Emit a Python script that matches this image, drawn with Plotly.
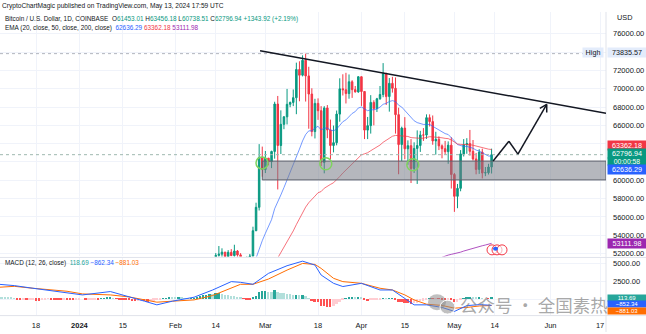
import plotly.graph_objects as go
import pandas as pd

W, H = 646, 334


def fx(px):
    return px / W


def fy(px):
    return 1 - px / H


# ---------------- price data (BTC/USD daily, Coinbase) ----------------
candle_dates = [
    "2024-02-13", "2024-02-14", "2024-02-15", "2024-02-16", "2024-02-17", "2024-02-18", "2024-02-19",
    "2024-02-20", "2024-02-21", "2024-02-22", "2024-02-23", "2024-02-24", "2024-02-25", "2024-02-26",
    "2024-02-27", "2024-02-28", "2024-02-29", "2024-03-01", "2024-03-02", "2024-03-03", "2024-03-04",
    "2024-03-05", "2024-03-06", "2024-03-07", "2024-03-08", "2024-03-09", "2024-03-10", "2024-03-11",
    "2024-03-12", "2024-03-13", "2024-03-14", "2024-03-15", "2024-03-16", "2024-03-17", "2024-03-18",
    "2024-03-19", "2024-03-20", "2024-03-21", "2024-03-22", "2024-03-23", "2024-03-24", "2024-03-25",
    "2024-03-26", "2024-03-27", "2024-03-28", "2024-03-29", "2024-03-30", "2024-03-31", "2024-04-01",
    "2024-04-02", "2024-04-03", "2024-04-04", "2024-04-05", "2024-04-06", "2024-04-07", "2024-04-08",
    "2024-04-09", "2024-04-10", "2024-04-11", "2024-04-12", "2024-04-13", "2024-04-14", "2024-04-15",
    "2024-04-16", "2024-04-17", "2024-04-18", "2024-04-19", "2024-04-20", "2024-04-21", "2024-04-22",
    "2024-04-23", "2024-04-24", "2024-04-25", "2024-04-26", "2024-04-27", "2024-04-28", "2024-04-29",
    "2024-04-30", "2024-05-01", "2024-05-02", "2024-05-03", "2024-05-04", "2024-05-05", "2024-05-06",
    "2024-05-07", "2024-05-08", "2024-05-09", "2024-05-10", "2024-05-11", "2024-05-12", "2024-05-13",
]
open_ = [
    49950, 49700, 51800, 51930, 52150, 51660, 52130,
    51780, 52270, 51850, 51300, 50740, 51570, 51730,
    54490, 57050, 62500, 61170, 62420, 62030, 63150,
    68330, 63800, 66110, 66930, 68300, 68500, 69020,
    72100, 71480, 73110, 71400, 69420, 65320, 68400,
    67600, 61950, 67900, 65500, 63800, 64110, 67230,
    69990, 69890, 69470, 70760, 69900, 69650, 71310,
    69700, 65480, 65970, 68510, 67830, 68900, 69370,
    71630, 69140, 70590, 70050, 67170, 63900, 65700,
    63440, 63780, 61290, 63480, 63800, 64950, 64940,
    66840, 66410, 64300, 64480, 63760, 63450, 63120,
    63840, 60630, 58250, 59120, 62880, 63890, 64010,
    63160, 62330, 61190, 63080, 60800, 60830, 61453.01,
]
high = [
    50370, 52050, 52820, 52570, 52180, 52370, 52480,
    52960, 52380, 52040, 51540, 51690, 51950, 54930,
    57550, 63950, 63680, 63200, 62430, 63230, 68580,
    69210, 67640, 67000, 69980, 68600, 69920, 72850,
    73000, 73650, 73835.57, 72400, 70050, 68900, 68950,
    68100, 68100, 68220, 66630, 65980, 67620, 71140,
    71580, 71740, 71560, 70930, 70300, 71370, 71350,
    69700, 66920, 69300, 68740, 69000, 70300, 72800,
    71750, 71170, 71300, 71230, 67930, 65860, 66900,
    64360, 64500, 64150, 65450, 65400, 65700, 67200,
    67200, 67080, 65300, 64800, 63920, 64300, 64250,
    64700, 60800, 59600, 63300, 64500, 64600, 65500,
    64400, 62990, 63400, 63450, 61450, 61800, 63456.18,
]
low = [
    48300, 49250, 51300, 51580, 50620, 51180, 51700,
    50650, 50830, 50920, 50550, 50590, 51290, 50900,
    54450, 56700, 60390, 60790, 61640, 61330, 62360,
    59000, 62870, 65580, 66100, 67980, 68100, 67220,
    68630, 71350, 68600, 65630, 64800, 64570, 66600,
    61560, 60760, 64600, 62300, 63050, 63820, 66400,
    69260, 68390, 68910, 69000, 69590, 69560, 68120,
    64500, 64500, 65100, 66000, 67460, 68800, 69070,
    68230, 67500, 69580, 65100, 60660, 62100, 62300,
    61700, 59700, 60800, 59600, 63100, 64300, 64520,
    65880, 63880, 62800, 63300, 62400, 62800, 61800,
    59100, 56550, 56950, 58800, 62600, 62900, 62700,
    62150, 60650, 60700, 60200, 60450, 60630, 60738.51,
]
close = [
    49700, 51800, 51930, 52150, 51660, 52130, 51780,
    52270, 51850, 51300, 50740, 51570, 51730, 54490,
    57050, 62500, 61170, 62420, 62030, 63150, 68330,
    63800, 66110, 66930, 68300, 68500, 69020, 72100,
    71480, 73110, 71400, 69420, 65320, 68400, 67600,
    61950, 67900, 65500, 63800, 64110, 67230, 69990,
    69890, 69470, 70760, 69900, 69650, 71310, 69700,
    65480, 65970, 68510, 67830, 68900, 69370, 71630,
    69140, 70590, 70050, 67170, 63900, 65700, 63440,
    63780, 61290, 63480, 63800, 64950, 64940, 66840,
    66410, 64300, 64480, 63760, 63450, 63120, 63840,
    60630, 58250, 59120, 62880, 63890, 64010, 63160,
    62330, 61190, 63080, 60800, 60830, 61450, 62796.94,
]

# ---------------- moving averages ----------------
ema20_dates = candle_dates[12:]
ema20 = [
    50500, 50900, 51500, 52500, 53400, 54200, 54900, 55700, 56900, 57600,
    58400, 59200, 60000, 60800, 61600, 62600, 63400, 64300, 65000, 65400,
    65400, 65700, 65900, 65500, 65700, 65700, 65500, 65400, 65600, 66000,
    66400, 66600, 67000, 67300, 67500, 67900, 68000, 67800, 67600, 67700,
    67700, 67800, 68000, 68300, 68400, 68600, 68700, 68600, 68200, 68000,
    67600, 67200, 66800, 66500, 66300, 66200, 66100, 66100, 66100, 65900,
    65700, 65500, 65300, 65100, 65000, 64700, 64300, 63900, 63800, 63700,
    63700, 63600, 63500, 63300, 63200, 63000, 62800, 62650, 62636.29,
]
ema50_dates = candle_dates[19:]
ema50 = [
    50310, 51020, 51520, 52090, 52670, 53280, 53880, 54470, 55160, 55800,
    56480, 57070, 57550, 57860, 58270, 58640, 58770, 59130, 59380, 59550,
    59730, 60020, 60410, 60790, 61130, 61510, 61840, 62140, 62500, 62780,
    62890, 63010, 63230, 63410, 63620, 63850, 64150, 64350, 64590, 64810,
    64900, 64860, 64890, 64830, 64790, 64660, 64610, 64580, 64590, 64600,
    64690, 64760, 64740, 64730, 64690, 64640, 64580, 64550, 64400, 64160,
    63960, 63920, 63920, 63920, 63890, 63830, 63730, 63700, 63590, 63480,
    63400, 63362.18,
]
ema200_dates = candle_dates[71:]
ema200 = [
    51220, 51350, 51480, 51590, 51710, 51830, 51910, 51970, 52040, 52150,
    52270, 52380, 52490, 52590, 52670, 52780, 52850, 52930, 53020, 53111.98,
]

# ---------------- MACD (12, 26, close) ----------------
macd_line_dates = [
    "2023-12-06", "2023-12-11", "2023-12-17", "2023-12-28", "2024-01-02", "2024-01-11",
    "2024-01-17", "2024-01-22", "2024-01-26", "2024-01-31", "2024-02-07", "2024-02-13",
    "2024-02-19", "2024-02-22", "2024-02-26", "2024-03-02", "2024-03-08", "2024-03-13",
    "2024-03-17", "2024-03-19", "2024-03-23", "2024-03-26", "2024-04-01", "2024-04-07",
    "2024-04-11", "2024-04-15", "2024-04-18", "2024-04-22", "2024-04-27", "2024-05-01",
    "2024-05-05", "2024-05-09", "2024-05-13",
]
macd_line = [
    2085, 1900, 1530, 834, 600, 1070,
    278, -278, -790, -278, 278, 1290,
    2460, 2360, 2085, 3610, 4680, 5320,
    4770, 3380, 2220, 1770, 2220, 1290,
    1290, 140, -790, -790, -1150, -1710,
    -900, -760, -852.34,
]
signal_line = [
    1670, 1800, 1530, 1110, 740, 600,
    320, -97, -417, -278, -97, 514,
    1630, 2085, 2085, 2820, 4070, 5000,
    4865, 4310, 2920, 2460, 2220, 1530,
    1290, 600, -97, -695, -875, -1250,
    -1150, -950, -881.03,
]
hist_dates_start = "2023-12-06"
macd_hist = [
    350, 300, 280, 230, 150, 20, -80, -150, -150, -200, -200, -180,
    -250, -260, -130, -60, -30, -40, -60, -70, -140, -100, -110, -140, -150, -150,
    -100, 0, -120, -90, -90, -80, -90, 60, 90, 180, 240, 90, -30, -130, -180, -190,
    -230, -330, -340, -320, -300, -380, -420, -330, -260, -100, -40, 10, 100, 180, 150,
    140, 140, 120, 80, 60, 60, 80, 230, 430, 520, 590, 720, 640, 750, 760, 690, 560,
    490, 400, 360, 250, 140, -30, -60, -80, 120, 450, 990, 1050,
    1070, 970, 900, 1180, 920, 830, 760, 720, 620, 520, 580, 480, 500, 340, 100,
    -310, -400, -520, -1000, -1050, -1100, -1150, -1000, -700, -400, -200, 20, 140, 170, 160, 230,
    150, -180, -330, -240, -200, -120, -60, 100, 60, 100, 100, -60, -420, -480, -610,
    -620, -740, -630, -530, -380, -270, -80, 20, -20, -10, -30, -50, -70, -40, -230,
    -460, -460, -190, 50, 190, 220, 190, 110, 150, 50, 0, -20, 113.69,
]

# ---------------- axis ticks ----------------
time_tick_dates = [
    "2023-12-18", "2024-01-01", "2024-01-15", "2024-02-01", "2024-02-14", "2024-03-01",
    "2024-03-18", "2024-04-01", "2024-04-15", "2024-05-01", "2024-05-14", "2024-06-01", "2024-06-17",
]
time_tick_text = ["18", "<b>2024</b>", "15", "Feb", "14", "Mar", "18", "Apr", "15", "May", "14", "Jun", "17"]
price_ticks = [52000, 54000, 56000, 58000, 60000, 62000, 64000, 66000, 68000, 70000, 72000, 74000, 76000]
price_tick_labels_hidden = {62000, 64000, 74000}
macd_ticks = [0, 2500, 5000]

# ---------------- drawings ----------------
support_zone = ("2024-02-29 00:00", 60040, 62100)
touch_points = [("2024-02-28 22:00", 61900), ("2024-03-20 12:00", 61800), ("2024-04-17 14:00", 61700)]
trend_line = [("2024-02-28 07:00", 74154), ("2024-06-18 22:00", 67313)]
projection_path = [
    ("2024-05-13 12:00", 62100),
    ("2024-05-18 14:00", 64270),
    ("2024-05-21 12:00", 62860),
    ("2024-05-30 19:00", 68290),
]

X_RANGE = ["2023-12-06 09:00", "2024-06-18 22:00"]
Y_RANGE = [51680, 78390]
M_RANGE = [-2224, 5700]

UP, DOWN = "#089981", "#f23645"
TXT = "#131722"
GRID = "#f0f3fa"
FONT = "Liberation Sans, Arial, sans-serif"

fig = go.Figure()

fig.add_trace(go.Candlestick(
    x=candle_dates, open=open_, high=high, low=low, close=close,
    increasing=dict(line=dict(color=UP, width=1), fillcolor=UP),
    decreasing=dict(line=dict(color=DOWN, width=1), fillcolor=DOWN),
    whiskerwidth=0, xaxis="x", yaxis="y", showlegend=False, hoverinfo="skip",
))
fig.add_trace(go.Scatter(x=ema20_dates, y=ema20, mode="lines",
                         line=dict(color="rgba(41,98,255,0.65)", width=1), xaxis="x", yaxis="y",
                         showlegend=False, hoverinfo="skip"))
fig.add_trace(go.Scatter(x=ema50_dates, y=ema50, mode="lines",
                         line=dict(color="rgba(242,54,69,0.7)", width=1), xaxis="x", yaxis="y",
                         showlegend=False, hoverinfo="skip"))
fig.add_trace(go.Scatter(x=ema200_dates, y=ema200, mode="lines",
                         line=dict(color="rgba(156,39,176,0.8)", width=1), xaxis="x", yaxis="y",
                         showlegend=False, hoverinfo="skip"))

# MACD histogram colours follow sign and direction
hist_dates = pd.date_range(hist_dates_start, periods=len(macd_hist), freq="D")
hist_colors = []
prev = None
for v in macd_hist:
    rising = prev is None or v >= prev
    if v >= 0:
        hist_colors.append("#26a69a" if rising else "#b2dfdb")
    else:
        hist_colors.append("#ffcdd2" if rising else "#ff5252")
    prev = v

fig.add_trace(go.Bar(x=hist_dates, y=macd_hist, marker=dict(color=hist_colors, line=dict(width=0)),
                     width=0.62 * 86400000, xaxis="x2", yaxis="y2", showlegend=False, hoverinfo="skip"))
fig.add_trace(go.Scatter(x=macd_line_dates, y=signal_line, mode="lines",
                         line=dict(color="#ff6d00", width=1), xaxis="x2", yaxis="y2",
                         showlegend=False, hoverinfo="skip"))
fig.add_trace(go.Scatter(x=macd_line_dates, y=macd_line, mode="lines",
                         line=dict(color="#2962ff", width=1), xaxis="x2", yaxis="y2",
                         showlegend=False, hoverinfo="skip"))

PANE_R = fx(606)
MAIN_DOM = [fy(258), fy(12)]
MACD_DOM = [fy(317), fy(260)]

axis_font = dict(family=FONT, size=7.5, color=TXT)

fig.update_layout(
    width=W, height=H, margin=dict(l=0, r=0, t=0, b=0),
    paper_bgcolor="white", plot_bgcolor="white",
    bargap=0, showlegend=False,
    xaxis=dict(domain=[0, PANE_R], range=X_RANGE, type="date", anchor="y",
               tickvals=time_tick_dates, ticktext=[""] * len(time_tick_dates),
               showgrid=True, gridcolor=GRID, gridwidth=1, zeroline=False,
               showline=False, rangeslider=dict(visible=False), fixedrange=True),
    yaxis=dict(domain=MAIN_DOM, range=Y_RANGE, side="right", anchor="x",
               tickvals=price_ticks,
               ticktext=["" if t in price_tick_labels_hidden else f"{t:.2f}" for t in price_ticks],
               showgrid=True, gridcolor=GRID, zeroline=False, ticks="",
               tickfont=axis_font, ticklabelstandoff=6, fixedrange=True),
    xaxis2=dict(domain=[0, PANE_R], range=X_RANGE, type="date", anchor="y2", matches="x",
                tickvals=time_tick_dates, ticktext=time_tick_text, tickfont=axis_font,
                showgrid=True, gridcolor=GRID, zeroline=False, ticks="", ticklabelstandoff=4,
                fixedrange=True),
    yaxis2=dict(domain=MACD_DOM, range=M_RANGE, side="right", anchor="x2",
                tickvals=macd_ticks, ticktext=["", "2500.00", "5000.00"],
                showgrid=True, gridcolor=GRID, zeroline=False, ticks="",
                tickfont=axis_font, ticklabelstandoff=6, fixedrange=True),
)

shapes = []
# pane borders
shapes.append(dict(type="line", xref="paper", yref="paper", x0=0, x1=1, y0=fy(259), y1=fy(259),
                   line=dict(color="#e0e3eb", width=1)))
shapes.append(dict(type="line", xref="paper", yref="paper", x0=0, x1=1, y0=fy(317.5), y1=fy(317.5),
                   line=dict(color="#e0e3eb", width=1)))
shapes.append(dict(type="line", xref="paper", yref="paper", x0=PANE_R, x1=PANE_R, y0=fy(334), y1=fy(12),
                   line=dict(color="#e0e3eb", width=1)))
# high and last-price lines
shapes.append(dict(type="line", xref="x", yref="y", x0=X_RANGE[0], x1=X_RANGE[1], y0=73835.57, y1=73835.57,
                   line=dict(color="#b2b5be", width=1, dash="dot")))
shapes.append(dict(type="line", xref="x", yref="y", x0=X_RANGE[0], x1=X_RANGE[1], y0=close[-1], y1=close[-1],
                   line=dict(color="#9fb8b0", width=1, dash="dot")))
# support zone
shapes.append(dict(type="rect", xref="x", yref="y", x0=support_zone[0], x1=X_RANGE[1],
                   y0=support_zone[1], y1=support_zone[2],
                   fillcolor="rgba(120,123,134,0.55)", line=dict(color="#5d606b", width=1)))
# touches of the zone
for d, p in touch_points:
    shapes.append(dict(type="circle", xref="x", yref="y", xsizemode="pixel", ysizemode="pixel",
                       xanchor=d, yanchor=p, x0=-6, x1=6, y0=-6, y1=6,
                       line=dict(color="#7fd35e", width=1.5)))
# descending trend line
shapes.append(dict(type="line", xref="x", yref="y", x0=trend_line[0][0], y0=trend_line[0][1],
                   x1=trend_line[1][0], y1=trend_line[1][1], line=dict(color="#131722", width=1.5)))
# projected path
for (d0, p0), (d1, p1) in zip(projection_path[:-1], projection_path[1:]):
    shapes.append(dict(type="line", xref="x", yref="y", x0=d0, y0=p0, x1=d1, y1=p1,
                       line=dict(color="#131722", width=1.5)))
tip_d, tip_p = projection_path[-1]
for dx, dy in [(-6.9, -4.0), (0.0, -8.0)]:
    shapes.append(dict(type="line", xref="x", yref="y", xsizemode="pixel", ysizemode="pixel",
                       xanchor=tip_d, yanchor=tip_p, x0=0, y0=0, x1=dx, y1=dy,
                       line=dict(color="#131722", width=1.5)))
# event marker near the last bar
for ox in (-5, 0, 5):
    shapes.append(dict(type="circle", xref="x", yref="y", xsizemode="pixel", ysizemode="pixel",
                       xanchor="2024-05-14 18:00", yanchor=52400, x0=ox - 5, x1=ox + 5, y0=-5, y1=5,
                       line=dict(color="#f23645", width=1), fillcolor="rgba(255,255,255,0.6)"))
shapes.append(dict(type="circle", xref="x", yref="y", xsizemode="pixel", ysizemode="pixel",
                   xanchor="2024-05-14 18:00", yanchor=52400, x0=-4, x1=1, y0=-1, y1=3,
                   line=dict(width=0), fillcolor="#2962ff"))
# watermark logo
shapes.append(dict(type="circle", xref="paper", yref="paper", x0=fx(428), x1=fx(446), y0=fy(312), y1=fy(296),
                   fillcolor="rgba(140,140,140,0.55)", line=dict(width=0)))
shapes.append(dict(type="circle", xref="paper", yref="paper", x0=fx(440), x1=fx(455), y0=fy(316), y1=fy(302),
                   fillcolor="rgba(140,140,140,0.55)", line=dict(color="white", width=1)))
fig.update_layout(shapes=shapes)

ann = []


def text(x, y, s, size=6.8, color=TXT, anchor="left", **kw):
    ann.append(dict(xref="paper", yref="paper", x=fx(x), y=fy(y), text=s, showarrow=False,
                    xanchor=anchor, yanchor="middle", font=dict(family=FONT, size=size, color=color), **kw))


def tag(y, s, bg, color="white", x=607, h=9, size=7.2):
    ann.append(dict(xref="paper", yref="paper", x=fx(x), y=fy(y), text=s, showarrow=False,
                    xanchor="left", yanchor="middle", bgcolor=bg, borderpad=0, width=38, height=h,
                    align="center", valign="middle",
                    font=dict(family=FONT, size=size, color=color)))


text(0, 6, "CryptoChartMagic published on TradingView.com, May 13, 2024 17:59 UTC", size=6.6)
g = "#089981"
text(3, 19, "Bitcoin / U.S. Dollar, 1D, COINBASE  "
     f"O<span style='color:{g}'>61453.01</span> H<span style='color:{g}'>63456.18</span> "
     f"L<span style='color:{g}'>60738.51</span> C<span style='color:{g}'>62796.94</span> "
     f"<span style='color:{g}'>+1343.92 (+2.19%)</span>", size=6.4)
text(3, 28, "EMA (20, close, 50, close, 200, close)  "
     "<span style='color:#2962ff'>62636.29</span> <span style='color:#f23645'>63362.18</span> "
     "<span style='color:#9c27b0'>53111.98</span>", size=6.4)
text(3, 265, "MACD (12, 26, close)  <span style='color:#26a69a'>118.69</span> "
     "<span style='color:#2962ff'>−862.34</span> <span style='color:#ff6d00'>−881.03</span>", size=6.4)
text(615, 18, "USD", size=7.3)

# price scale labels
tag(53, "73835.57", "#e3ecfb", color=TXT)
ann.append(dict(xref="paper", yref="paper", x=fx(604), y=fy(53), text="High", showarrow=False,
                xanchor="right", yanchor="middle", bgcolor="#e3ecfb", borderpad=0, width=20, height=9,
                font=dict(family=FONT, size=7.2, color=TXT)))
tag(146, "63362.18", "#f23645")
tag(154.9, "62796.94", "#089981", h=8.8)
tag(162.6, "00:00:58", "#089981", h=7, size=6.8)
tag(170.5, "62636.29", "#2962ff")
tag(245, "53111.98", "#9c27b0")
tag(299.6, "113.69", "#26a69a", h=6.4, size=6)
tag(306.2, "−852.34", "#2962ff", h=6.4, size=6)
tag(312.8, "−881.03", "#ff6d00", h=6.4, size=6)

# watermark
text(458, 306, "公众号 · 全国素热", size=17.5, color="rgba(130,130,130,0.7)")
ann[-1]["font"]["family"] = "Noto Sans CJK SC"

fig.update_layout(annotations=ann)
fig.write_html("out.html")
